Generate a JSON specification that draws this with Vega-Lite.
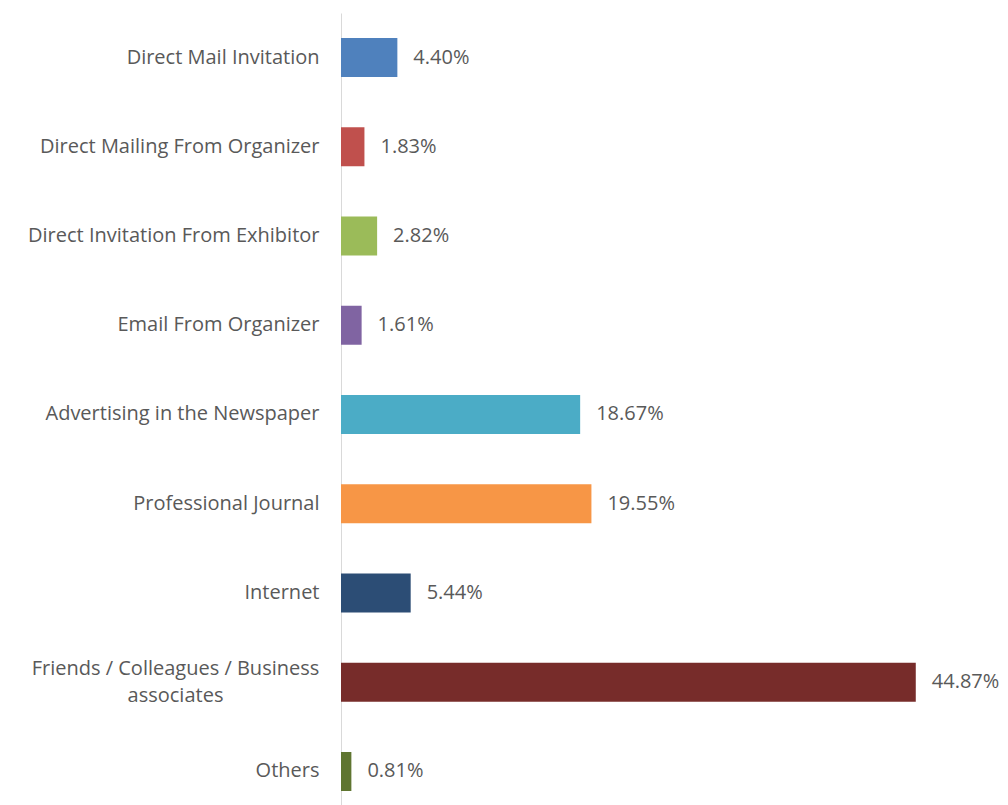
{
  "$schema": "https://vega.github.io/schema/vega-lite/v6.json",
  "autosize": "none",
  "padding": {"left": 341, "top": 13, "right": 0, "bottom": 0},
  "width": 667,
  "height": 792,
  "background": "white",
  "config": {"view": {"stroke": null}},
  "data": {"values": [
    {"source": "Direct Mail Invitation", "share": 0.0440, "color": "#4F81BD"},
    {"source": "Direct Mailing From Organizer", "share": 0.0183, "color": "#C0504D"},
    {"source": "Direct Invitation From Exhibitor", "share": 0.0282, "color": "#9BBB59"},
    {"source": "Email From Organizer", "share": 0.0161, "color": "#8064A2"},
    {"source": "Advertising in the Newspaper", "share": 0.1867, "color": "#4BACC6"},
    {"source": "Professional Journal", "share": 0.1955, "color": "#F79646"},
    {"source": "Internet", "share": 0.0544, "color": "#2C4D75"},
    {"source": "Friends / Colleagues / Business associates", "share": 0.4487, "color": "#772C2A"},
    {"source": "Others", "share": 0.0081, "color": "#5F7530"}
  ]},
  "encoding": {
    "y": {
      "field": "source", "type": "nominal", "sort": null,
      "scale": {"paddingInner": 0.563, "paddingOuter": 0.2185, "align": 0.641},
      "axis": {
        "title": null, "ticks": false, "domainColor": "#d9d9d9", "domainWidth": 1,
        "labelFont": "Open Sans", "labelFontSize": 20, "labelColor": "#595959",
        "labelLimit": 400, "labelLineHeight": 27,
        "labelPadding": {"condition": {"test": "datum.value == 'Friends / Colleagues / Business associates'", "value": 166}, "value": 22},
        "labelAlign": {"condition": {"test": "datum.value == 'Friends / Colleagues / Business associates'", "value": "center"}, "value": "right"},
        "labelOffset": {"condition": {"test": "datum.value == 'Friends / Colleagues / Business associates'", "value": -13}, "value": 0},
        "labelExpr": "datum.label == 'Friends / Colleagues / Business associates' ? ['Friends / Colleagues / Business', 'associates'] : datum.label"
      }
    },
    "x": {
      "field": "share", "type": "quantitative",
      "scale": {"domain": [0, 0.5207], "nice": false},
      "axis": null
    }
  },
  "layer": [
    {"mark": {"type": "bar"}, "encoding": {"color": {"field": "color", "type": "nominal", "scale": null, "legend": null}}},
    {"mark": {"type": "text", "align": "left", "dx": 16, "font": "Open Sans", "fontSize": 20, "color": "#595959"},
     "encoding": {"text": {"field": "share", "type": "quantitative", "format": ".2%"}}}
  ]
}
